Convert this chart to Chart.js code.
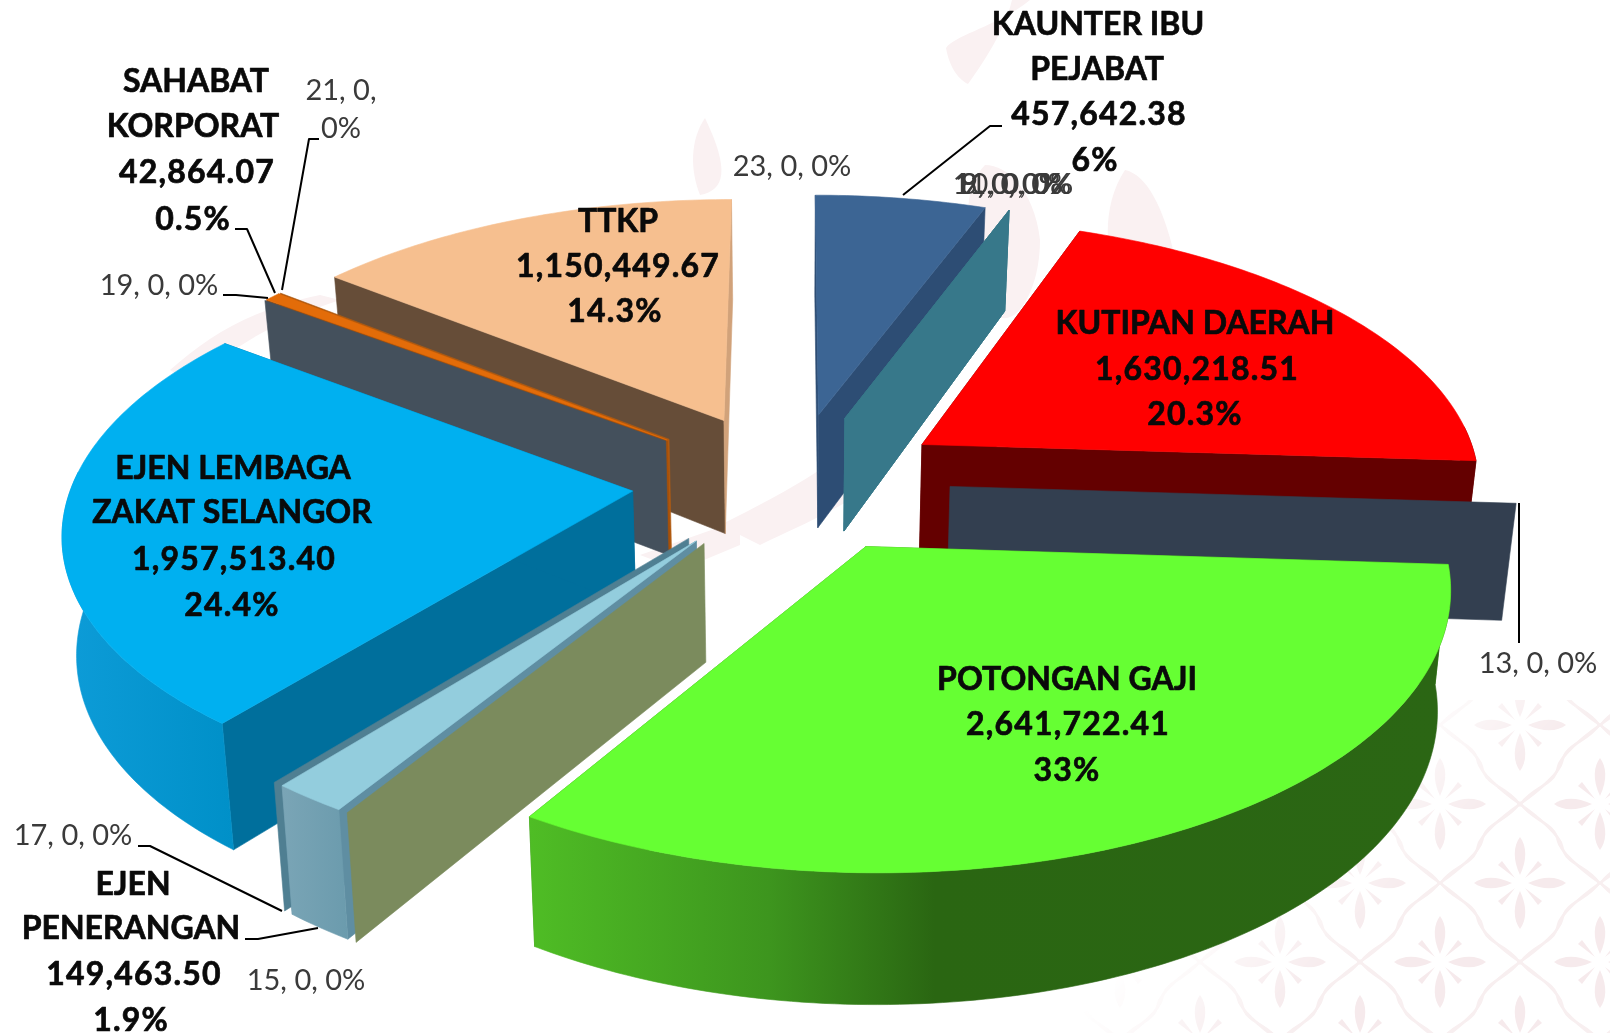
<!DOCTYPE html>
<html><head><meta charset="utf-8">
<style>html,body{margin:0;padding:0;background:#fff;width:1610px;height:1033px;overflow:hidden}
#bg{position:absolute;left:0;top:0}#wrap{position:absolute;left:0;top:0;width:1610px;height:1033px}</style>
<script src="https://cdn.jsdelivr.net/npm/chart.js@4"></script>
</head><body>
<svg id="bg" width="1610" height="1033" viewBox="0 0 1610 1033">
<defs>
<g id="fl">
<path fill="none" stroke="#f8eff0" stroke-width="2.5" d="M0 -80 C14 -60 34 -62 38 -42 C40 -32 60 -14 80 0 C60 14 40 32 38 42 C34 62 14 60 0 80 C-14 60 -34 62 -38 42 C-40 32 -60 14 -80 0 C-60 -14 -40 -32 -38 -42 C-34 -62 -14 -60 0 -80Z"/>
<g fill="#f6eaec">
<path d="M0 -8 C-8 -25 -6 -38 0 -46 C6 -38 8 -25 0 -8Z"/><path d="M0 8 C-8 25 -6 38 0 46 C6 38 8 25 0 8Z"/>
<path d="M-8 0 C-25 -8 -38 -6 -46 0 C-38 6 -25 8 -8 0Z"/><path d="M8 0 C25 -8 38 -6 46 0 C38 6 25 8 8 0Z"/>
<path d="M-5 -5 L-18 -22 L-22 -18Z"/><path d="M5 -5 L18 -22 L22 -18Z"/><path d="M-5 5 L-18 22 L-22 18Z"/><path d="M5 5 L18 22 L22 18Z"/>
</g></g>
<pattern id="tile" patternUnits="userSpaceOnUse" x="1360" y="883" width="160" height="158">
<use href="#fl" x="80" y="79"/><use href="#fl" x="0" y="0"/><use href="#fl" x="160" y="0"/><use href="#fl" x="0" y="158"/><use href="#fl" x="160" y="158"/>
</pattern>
<linearGradient id="fade" gradientUnits="userSpaceOnUse" x1="1260" y1="830" x2="1440" y2="1010"><stop offset="0" stop-color="#000"/><stop offset="0.6" stop-color="#fff"/></linearGradient>
<mask id="m"><rect width="1610" height="1033" fill="url(#fade)"/></mask>
</defs>
<rect x="700" y="700" width="910" height="333" fill="url(#tile)" mask="url(#m)"/>
<g fill="#faf1f2">
<path d="M1030 0 C1000 25 955 35 946 48 C950 70 960 80 968 84 C985 60 1005 30 1012 0Z"/>
<path d="M705 118 C690 140 690 170 700 195 C725 190 730 170 705 118Z"/>
<path d="M985 165 C960 190 965 235 985 300 C1005 345 1040 300 1040 240 C1035 195 1010 165 985 165Z"/>
<path d="M1125 170 C1105 200 1105 240 1112 262 C1150 250 1175 300 1180 285 C1170 220 1150 175 1125 170Z"/>
<path d="M170 370 C210 335 250 310 320 295 L340 300 C280 320 230 345 195 385Z"/>
<path d="M720 525 C770 500 830 470 870 430 L880 480 C840 510 790 530 760 545Z"/>
<path d="M640 555 L740 520 L740 545 L680 570Z"/>
</g>
</svg>
<div id="wrap"><canvas id="c" width="1610" height="1033"></canvas></div>
<script>
// ---------- data ----------
const categories = ['KAUNTER IBU PEJABAT','8','9','10','11','KUTIPAN DAERAH','13','POTONGAN GAJI','15','EJEN PENERANGAN','17','EJEN LEMBAGA ZAKAT SELANGOR','19','SAHABAT KORPORAT','21','TTKP','23'];
const values = [457642.38,0,0,0,0,1630218.51,0,2641722.41,0,149463.50,0,1957513.40,0,42864.07,0,1150449.67,0];
const percents = ['6%','0%','0%','0%','0%','20.3%','0%','33%','0%','1.9%','0%','24.4%','0%','0.5%','0%','14.3%','0%'];
const valueTexts = ['457,642.38','0','0','0','0','1,630,218.51','0','2,641,722.41','0','149,463.50','0','1,957,513.40','0','42,864.07','0','1,150,449.67','0'];
// ---------- styles ----------
const topColors  = ['#3C6594','#37788A','#37788A','#37788A','#37788A','#FF0000','#333F50','#66FF33','#7B8B5D','#93CDDD','#4F7F92','#00B0F0','#44505C','#E36C09','#B05A10','#F6BF8F','#D1A27A'];
const startWall  = ['#2D4D74','#37788A','#37788A','#37788A','#37788A','#6B0000','#333F50','#3A8C1A','#7B8B5D','#5F8EA2','#4F7F92','#006F9C','#44505C','#A85008','#B05A10','#664D38',null];
const endWall    = ['#2D4D74',null,null,null,null,'#640000',null,'#3A8C1A',null,'#5F8EA2',null,'#006F9C',null,'#A85008',null,'#D1A27A',null];
const rimStops   = [[[0,'#2D4D74'],[1,'#2D4D74']],null,null,null,null,[[0,'#640000'],[1,'#640000']],null,[[0,'#4FBD25'],[0.26,'#3D951E'],[0.44,'#2A6612'],[1,'#2B6614']],null,[[0,'#7AA5B6'],[1,'#6B9BAD']],null,[[0,'#0D9CD8'],[1,'#0090C8']],null,[[0,'#A85008'],[1,'#A85008']],null,[[0,'#D1A27A'],[1,'#D1A27A']],null];
const drawOrder = [0,1,2,3,4,16,15,14,13,12,5,6,11,10,9,8,7];
const OFFSET = 121;
const VIEW = {cx:791, cy:482, a:560, b:265, k:0.131, depth:116, depthK:0.11, lean:0.98, offsetX:1.07};
const boldFont = 'bold 32px Lato, Carlito, sans-serif';
const thinFont = '29px Lato, Carlito, sans-serif';
const boldLabels = [
 {i:0,x:1098,ys:[25,70,115,161],lines:['KAUNTER IBU','PEJABAT'],dx:[0,-1,1,-3]},
 {i:13,x:193,ys:[82,127,173,220],lines:['SAHABAT','KORPORAT'],dx:[3,0,4,0]},
 {i:15,x:617,ys:[222,267,312],lines:['TTKP'],dx:[1,1,-2]},
 {i:5,x:1195,ys:[324,370,415],lines:['KUTIPAN DAERAH'],dx:[0,2,0]},
 {i:11,x:232,ys:[469,513,560,606],lines:['EJEN LEMBAGA','ZAKAT SELANGOR'],dx:[1,0,2,0]},
 {i:7,x:1067,ys:[680,725,771],lines:['POTONGAN GAJI'],dx:[0,1,0]},
 {i:9,x:130,ys:[885,929,975,1021],lines:['EJEN','PENERANGAN'],dx:[3,1,4,1]}
];
const thinLabels = [
 {i:1,x:1011,y:185},{i:2,x:1012,y:185},{i:3,x:1014,y:185},{i:4,x:1012,y:185},
 {i:16,x:792,y:167},{i:12,x:159,y:286},{i:10,x:73,y:836},{i:8,x:306,y:981},{i:6,x:1538,y:664},
 {i:14,x:341,y:91,split:true,y2:129}
];
const leaders = [
 [[1002,126],[990,126],[903,195]],[[235,229],[247,229],[275,293]],[[319,139],[309,139],[282,290]],
 [[223,295],[236,295],[268,298]],[[138,846],[150,846],[282,911]],[[245,939],[258,939],[318,928]],
 [[1519,503],[1519,643]]
];
// ---------- projection of the library's arc elements ----------
function project(U,V,down){
  const w=1-VIEW.k*V; let X=VIEW.cx+VIEW.a*U/w, Y=VIEW.cy+VIEW.b*V/w;
  if(down){Y+=VIEW.depth*(1+VIEW.depthK*V); X=VIEW.cx+(X-VIEW.cx)*VIEW.lean;}
  return [X,Y];
}
function ground(el,t,r){
  const R=el.outerRadius, mid=(el.startAngle+el.endAngle)/2, off=el.options.offset||0;
  return [(Math.cos(mid)*off*VIEW.offsetX+r*Math.cos(t))/R,(Math.sin(mid)*off+r*Math.sin(t))/R];
}
function poly(ctx,pts,fill){
  ctx.beginPath();pts.forEach((p,i)=>i?ctx.lineTo(p[0],p[1]):ctx.moveTo(p[0],p[1]));ctx.closePath();
  ctx.fillStyle=fill;ctx.fill();ctx.strokeStyle=fill;ctx.lineWidth=0.6;ctx.stroke();
}
function drawSlice(ctx,el,i){
  const R=el.outerRadius,s=el.startAngle,e=el.endAngle,zero=e-s<1e-6;
  const radial=(t,col)=>{
    if(!col) return;
    const a=ground(el,t,0),b=ground(el,t,R);
    poly(ctx,[project(a[0],a[1]),project(b[0],b[1]),project(b[0],b[1],true),project(a[0],a[1],true)],col);
  };
  radial(s,startWall[i]); if(zero) return;
  radial(e,endWall[i]);
  const n=Math.max(4,Math.ceil((e-s)*60)),rim=[],front=[];
  for(let j=0;j<=n;j++){const t=s+(e-s)*j/n;rim.push(ground(el,t,R));if(Math.sin(t)>-0.08)front.push(ground(el,t,R));}
  if(front.length>1){
    const up=front.map(g=>project(g[0],g[1])),dn=front.map(g=>project(g[0],g[1],true));
    const xs=up.concat(dn).map(p=>p[0]),x0=Math.min(...xs),x1=Math.max(...xs);
    const gr=ctx.createLinearGradient(x0,0,x1,0);rimStops[i].forEach(c=>gr.addColorStop(c[0],c[1]));
    poly(ctx,up.concat(dn.slice().reverse()),gr);
  }
  const a=ground(el,s,0);
  poly(ctx,[project(a[0],a[1])].concat(rim.map(g=>project(g[0],g[1]))),topColors[i]);
}
const pie3d={id:'pie3d',
  beforeDatasetsDraw(chart){
    const ctx=chart.ctx,els=chart.getDatasetMeta(0).data;
    ctx.save();drawOrder.forEach(i=>drawSlice(ctx,els[i],i));ctx.restore();
    return false;
  },
  afterDraw(chart){
    const ctx=chart.ctx;ctx.save();
    ctx.strokeStyle='#000';ctx.lineWidth=2;ctx.lineJoin='round';
    leaders.forEach(l=>{ctx.beginPath();l.forEach((p,j)=>j?ctx.lineTo(p[0],p[1]):ctx.moveTo(p[0],p[1]));ctx.stroke();});
    ctx.textAlign='center';ctx.textBaseline='middle';
    ctx.font=boldFont;ctx.fillStyle='#0a0a0a';ctx.strokeStyle='#0a0a0a';ctx.lineWidth=0.7;
    boldLabels.forEach(l=>{
      const n=l.lines.length;
      l.lines.concat([valueTexts[l.i],percents[l.i]]).forEach((s,j)=>{
        ctx.letterSpacing=j>=n?'1.2px':'0px';
        const x=l.x+l.dx[j];
        ctx.fillText(s,x,l.ys[j]);ctx.strokeText(s,x,l.ys[j]);
      });
    });
    ctx.letterSpacing='0px';
    ctx.font=thinFont;ctx.fillStyle='#3a3a3a';
    thinLabels.forEach(l=>{
      if(l.split){ctx.fillText(categories[l.i]+', '+valueTexts[l.i]+',',l.x,l.y);ctx.fillText(percents[l.i],l.x,l.y2);}
      else ctx.fillText(categories[l.i]+', '+valueTexts[l.i]+', '+percents[l.i],l.x,l.y);
    });
    ctx.restore();
  }
};
new Chart(document.getElementById('c'),{
  type:'pie',
  data:{labels:categories,datasets:[{data:values,backgroundColor:topColors,borderWidth:0,offset:OFFSET}]},
  options:{responsive:false,animation:false,layout:{padding:0},
    plugins:{legend:{display:false},tooltip:{enabled:false}}},
  plugins:[pie3d]
});
</script>
</body></html>
